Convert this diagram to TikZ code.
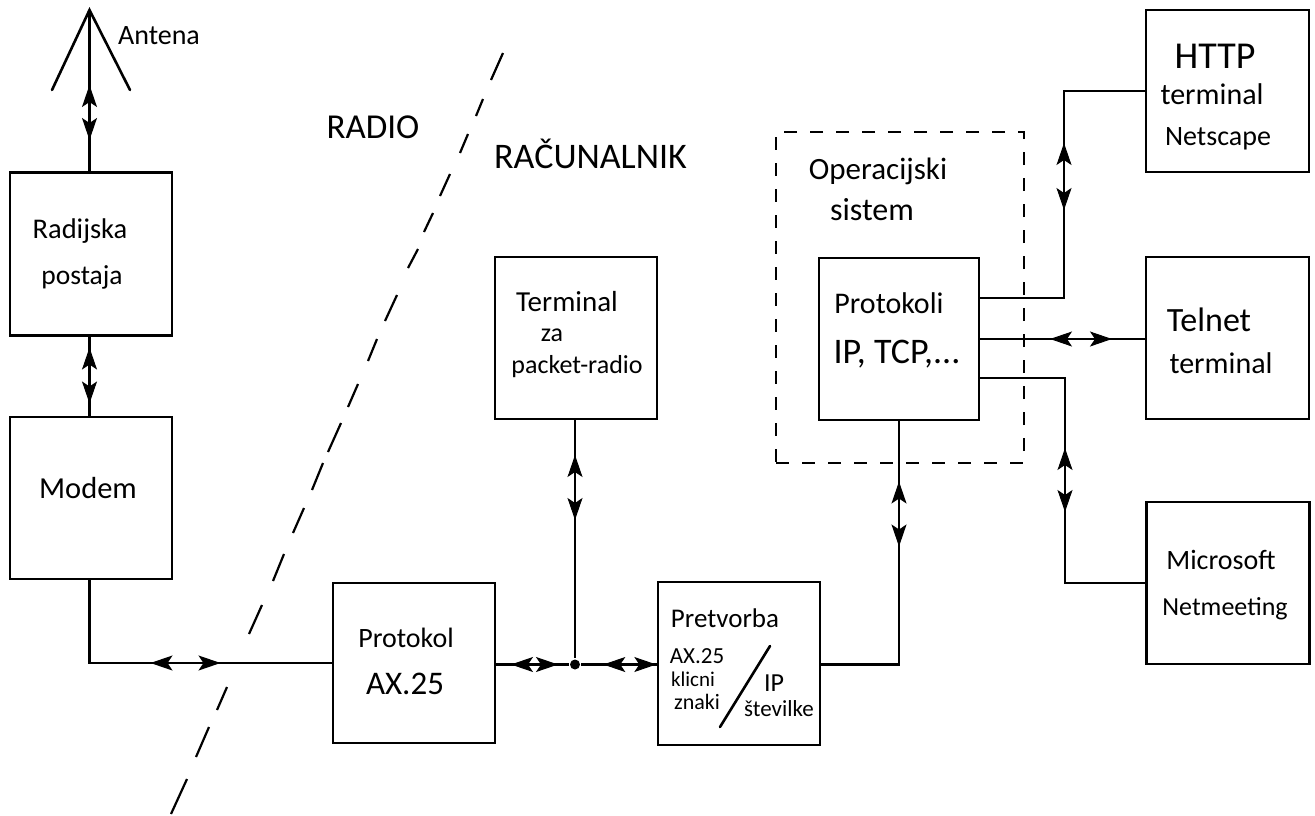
\documentclass[tikz,border=0pt]{standalone}
\usepackage{fontspec}
\setmainfont{Carlito}
\usetikzlibrary{arrows.meta,decorations.markings}
\tikzset{
  x=1pt,y=-1pt,
  every path/.style={line width=2.6pt,line join=miter},
  boxnode/.style={draw,rectangle,inner sep=0pt,outer sep=0pt,minimum width=#1},
  boxnode/.default=162pt,
  dashbox/.style={draw,rectangle,inner sep=0pt,outer sep=0pt,dash pattern=on 13pt off 13pt,line width=2.4pt},
  divider/.style={line width=2.2pt},
  conn/.style 2 args={postaction={decorate},decoration={markings,
    mark=at position #1pt with {\arrowreversed[line width=1pt]{Stealth[length=22pt,width=15pt,inset=5pt]}},
    mark=at position #2pt with {\arrow[line width=1pt]{Stealth[length=22pt,width=15pt,inset=5pt]}}}},
  lab/.style={font=\fontsize{#1}{#1}\selectfont,inner sep=0pt,outer sep=0pt},
  lab/.default=24,
}
\begin{document}
\begin{tikzpicture}
\useasboundingbox (0,0) rectangle (1315,815);
\fill[white] (0,0) rectangle (1315,815);
% dashed divider, hand-drawn dash by dash
\foreach \xa/\ya/\xb/\yb in {503/53/491/80,483/99/476/116,468/134/460/153,450/174/440/196,433/213/424/232,418/249/408/268,397/295/385/321,377/339/368/361,358/384/348/407,341/423/328/452,323/463/312/490,304/508/293/533,284/554/273/581,262/605/249/634,227/687/217/710,209/727/196/757,187/779/171/814}
  \draw[divider] (\xa,\ya) -- (\xb,\yb);
\node[dashbox,minimum width=248pt,minimum height=331pt] (opsys) at (900,297.5) {};
% boxes
\node[boxnode,minimum height=163pt] (radijska) at (91,254) {};
\node[boxnode,minimum height=162pt] (modem) at (91,498) {};
\node[boxnode,minimum height=160pt] (ax) at (414,663) {};
\node[boxnode,minimum height=162pt] (term) at (576,338) {};
\node[boxnode,minimum height=163pt] (pret) at (739,663.5) {};
\node[boxnode=160pt,minimum height=162pt] (prot) at (899,339) {};
\node[boxnode=163pt,minimum height=162pt] (http) at (1227.5,91) {};
\node[boxnode=163pt,minimum height=162pt] (telnet) at (1227.5,338) {};
\node[boxnode=163pt,minimum height=162pt] (ms) at (1228,583) {};
% antenna
\coordinate (apex) at (89.5,10);
\coordinate (legl) at (52,90);
\coordinate (legr) at (130,90);
\draw[line cap=round] (legl) -- (apex) -- (legr);
% junction
\node[circle,fill=black,inner sep=0pt,minimum size=10pt] (dot) at (575,664.5) {};
% connectors
\draw[conn={75}{130}] (apex) -- (apex |- radijska.north);
\draw[conn={12}{68}] (radijska.south -| apex) -- (modem.north -| apex);
\draw[conn={145}{215}] (modem.south -| apex) |- (ax.west);
\draw[conn={16}{63}] (ax.east |- dot) -- (dot);
\draw[conn={22}{75}] (dot) -- (pret.west |- dot);
\draw[conn={36}{101}] (term.south -| dot) -- (dot);
\draw[conn={197}{262}] (pret.east |- dot) -| (prot.south);
\coordinate (r1) at (979,298);
\coordinate (r3) at (979,378);
\coordinate (h1) at (1064,91);
\coordinate (h2) at (1064,298);
\coordinate (m1) at (1065,378);
\coordinate (m2) at (1065,583);
\draw[conn={173}{240}] (prot.east |- r1) -- (h2) -- (h1) -- (http.west |- h1);
\draw[conn={71}{133}] (prot.east) -- (telnet.west |- prot.east);
\draw[conn={156}{220}] (prot.east |- r3) -- (m1) -- (m2) -- (ms.west);
% pretvorba slash
\coordinate (s1) at (770,646);
\coordinate (s2) at (720,727);
\draw[line cap=round] (s1) -- (s2);
% labels
\node[lab=28] (tAnt) at (159,36) {Antena};
\node[lab=35] (tRad) at (373,127) {RADIO};
\node[lab=36] (tRac) at (590.5,154) {RAČUNALNIK};
\node[lab=31] (tOp) at (878,171) {Operacijski};
\node[lab=32] (tSis) at (872,210) {sistem};
\node[lab=28.5] (tRa) at (80,231) {Radijska};
\node[lab=27.5] (tPo) at (82,277) {postaja};
\node[lab=30.5] (tMo) at (88,488) {Modem};
\node[lab=29] (tTe) at (567,302) {Terminal};
\node[lab=26] (tZa) at (552,335) {za};
\node[lab=26] (tPa) at (577,367) {packet-radio};
\node[lab=28] (tPr) at (406,638) {Protokol};
\node[lab=33] (tAx) at (405,684) {AX.25};
\node[lab=27] (tPv) at (725,618) {Pretvorba};
\node[lab=23] (tA2) at (697,656) {AX.25};
\node[lab=21] (tKl) at (693,679) {klicni};
\node[lab=22] (tZn) at (697,702) {znaki};
\node[lab=26] (tIP) at (774,683) {IP};
\node[lab=23] (tSt) at (779,709) {številke};
\node[lab=30] (tPk) at (889,303) {Protokoli};
\node[lab=36] (tIT) at (897,354) {IP, TCP,...};
\node[lab=38] (tHt) at (1215,56) {HTTP};
\node[lab=30] (tTm) at (1212,94) {terminal};
\node[lab=28] (tNs) at (1218,139) {Netscape};
\node[lab=34] (tTl) at (1209,320) {Telnet};
\node[lab=30] (tTm2) at (1221,363) {terminal};
\node[lab=28] (tMs) at (1221,560) {Microsoft};
\node[lab=26] (tNm) at (1225,609) {Netmeeting};
\end{tikzpicture}
\end{document}
